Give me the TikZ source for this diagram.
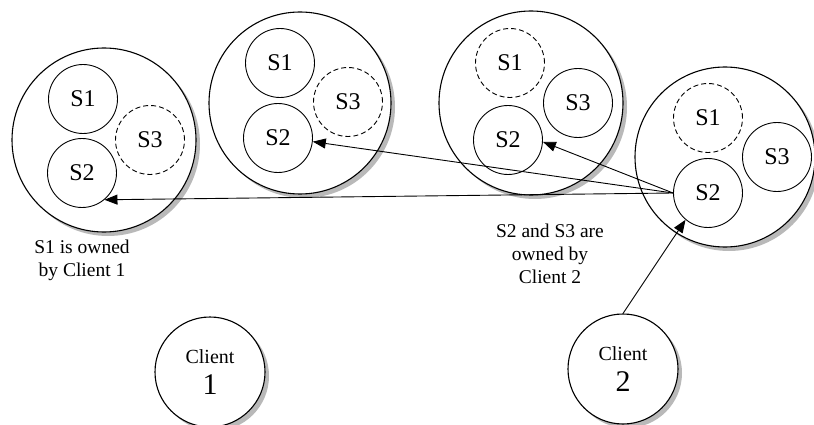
\documentclass[tikz,border=0pt]{standalone}
\usepackage{fontspec}
\setmainfont{Liberation Serif}
\usetikzlibrary{arrows.meta,shadows}
\begin{document}
\begin{tikzpicture}[x=1pt,y=-1pt,
  big/.style={circle,draw,line width=1.1pt,fill=white,inner sep=0pt,
    drop shadow={shadow xshift=4pt,shadow yshift=-4pt,fill=gray!55,opacity=1}},
  srv/.style={circle,draw,line width=0.9pt,fill=white,inner sep=0pt,minimum size=69pt,
    font=\fontsize{24}{26}\selectfont},
  ghost/.style={srv,dashed,dash pattern=on 5pt off 3pt},
  client/.style={big,minimum size=110pt,align=center,font=\fontsize{20}{31}\selectfont},
  lbl/.style={align=center,font=\fontsize{19.5}{23}\selectfont},
  link/.style={line width=0.9pt,-{Triangle[length=13pt,width=10pt]}}]
\useasboundingbox (0,0) rectangle (814,425);

% replica groups
\node[big,minimum size=184pt] (g1) at (104,140) {};
\node[big,minimum size=182pt] (g2) at (300,103) {};
\node[big,minimum size=184pt] (g3) at (531,103) {};
\node[big,minimum size=180pt] (g4) at (725,157) {};

% group 1
\node[srv]   (a1) at (83,99)   {S1};
\node[srv]   (a2) at (82,173)  {S2};
\node[ghost] (a3) at (150,140) {S3};
% group 2
\node[srv]   (b1) at (280,63)  {S1};
\node[srv]   (b2) at (278,138) {S2};
\node[ghost] (b3) at (348,102) {S3};
% group 3
\node[ghost] (c1) at (510,63)  {S1};
\node[srv]   (c3) at (578,103) {S3};
\node[srv]   (c2) at (508,140) {S2};
% group 4
\node[ghost] (d1) at (708,118) {S1};
\node[srv]   (d3) at (777,157) {S3};
\node[srv]   (d2) at (708,193) {S2};

% clients
\node[client] (k1) at (210,372) {Client\\{\fontsize{30}{31}\selectfont 1}};
\node[client] (k2) at (623,369) {Client\\{\fontsize{30}{31}\selectfont 2}};

% ownership notes
\node[lbl] (n1) at (82,260) {S1 is owned\\by Client 1};
\node[lbl] (n2) at (550,254) {S2 and S3 are\\owned by\\Client 2};

% propagation from S2 of the last group
\draw[link] (d2.west) -- (a2.-50);
\draw[link] (d2.west) -- (b2.-6);
\draw[link] (d2.west) -- (c2.-3);
\draw[link] (k2.north) -- (d2.-130);
\end{tikzpicture}
\end{document}
